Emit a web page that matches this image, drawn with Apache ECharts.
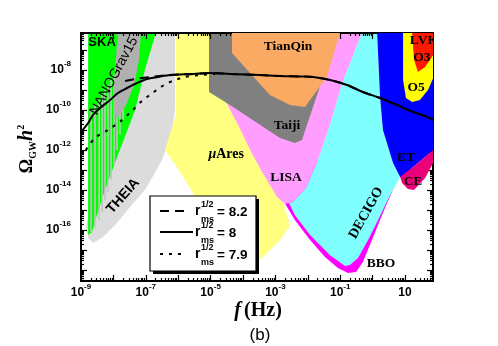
<!DOCTYPE html>
<html><head><meta charset="utf-8">
<script src="https://cdn.jsdelivr.net/npm/echarts@6/dist/echarts.min.js"></script>
<style>html,body{margin:0;padding:0;background:#fff}#c{width:498px;height:346px}</style>
</head><body><div id="c"></div>
<script>
// ---- axis ranges: log10(f / Hz), log10(Omega_GW h^2)
const X_MIN = -9, X_MAX = 1.864, Y_MIN = -18.55, Y_MAX = -6.15;
const xTickLabels = [-9, -7, -5, -3, -1, 1];
const yTickLabels = [-16, -14, -12, -10, -8];

// ---- sensitivity regions (log10 f, log10 Omega h^2)
const theiaF = [-6.87,-6.10,-6.10,-6.19,-6.35,-6.50,-6.72,-7.03,-7.49,-7.89,-8.32,-8.63,-8.78,-8.85,-8.41,-7.64];
const theiaO = [-6.15,-6.15,-10.0,-11.0,-11.85,-12.5,-13.15,-14.0,-14.85,-15.65,-16.35,-16.65,-16.4,-15.75,-13.5,-10.0];
const aresF = [-6.07,-4.34,-4.34,-3.48,-2.80,-2.55,-2.86,-3.26,-3.57,-4.09,-4.56,-5.17,-5.48,-5.73,-6.04,-6.41,-6.07];
const aresO = [-6.15,-6.15,-9.5,-12.5,-14.35,-15.8,-16.5,-17.15,-17.6,-17.9,-17.25,-15.25,-14.35,-13.65,-12.85,-12.0,-10.25];
const lisaF = [-4.86,-3.48,-0.33,-0.94,-1.32,-1.69,-2.06,-2.46,-2.70,-2.95,-3.41,-3.78,-4.15,-4.56];
const lisaO = [-8.5,-6.15,-6.15,-8.65,-10.75,-12.5,-13.9,-14.6,-14.7,-14.35,-13.1,-12.0,-10.75,-9.5];
const taijiF = [-5.05,-1.13,-1.56,-1.87,-2.18,-2.40,-2.86,-4.40,-5.05];
const taijiO = [-6.15,-6.15,-8.5,-10.0,-11.5,-11.65,-11.4,-9.75,-9.1];
const tianqinF = [-4.34,-1.01,-1.41,-2.09,-2.55,-3.17,-4.34];
const tianqinO = [-6.15,-6.15,-8.35,-9.85,-9.75,-9.25,-7.15];
const bboF = [-2.95,-2.77,-2.40,-1.93,-1.47,-1.07,-0.76,-0.51,-0.30,-0.02,0.29,0.69,-1.32];
const bboO = [-14.25,-14.5,-15.5,-16.5,-17.35,-17.9,-18.15,-18.1,-17.6,-16.5,-15.25,-13.75,-12.0];
const decigoF = [-0.33,0.14,0.23,0.32,0.63,0.85,0.54,0.17,-0.14,-0.45,-0.70,-0.85,-1.32,-1.93,-2.40,-2.58,-2.46,-2.06,-1.69,-1.32,-0.94];
const decigoO = [-6.15,-6.15,-9.35,-11.0,-12.65,-13.35,-14.25,-15.5,-16.5,-17.4,-17.75,-17.8,-17.25,-16.25,-15.25,-14.65,-14.6,-13.9,-12.5,-10.75,-8.65];
const etF = [0.14,1.87,1.87,1.62,1.25,0.91,0.85,0.63,0.32,0.23];
const etO = [-6.15,-6.15,-12.0,-12.35,-12.85,-13.35,-13.35,-12.65,-11.0,-9.35];
const ceF = [0.85,1.25,1.87,1.87,1.62,1.28,1.09,0.91];
const ceO = [-13.35,-12.85,-12.0,-12.65,-13.4,-14.0,-13.95,-13.65];
const o5F = [0.94,1.87,1.87,1.71,1.46,1.22,1.03,0.94];
const o5O = [-6.15,-6.15,-8.4,-9.0,-9.5,-9.6,-9.4,-8.5];
const o3F = [1.22,1.87,1.87,1.62,1.40,1.28];
const o3O = [-6.15,-6.15,-7.25,-7.85,-8.1,-7.5];
const skaF = [-8.78,-6.69,-7.03,-7.33,-7.86,-8.26,-8.51,-8.66,-8.78];
const skaO = [-6.15,-6.15,-8.0,-10.0,-12.25,-14.0,-15.25,-16.1,-16.25];
const nanoF = [-7.86,-7.15,-7.21,-7.36,-7.61,-7.86,-8.01,-7.95];
const nanoO = [-6.15,-6.15,-7.5,-8.75,-9.75,-10.4,-10.0,-8.0];
// NANOGrav15 violin stripes: frequency, lower and upper log10 Omega h^2
const stripeF  = [-8.69,-8.57,-8.44,-8.35,-8.26,-8.17,-8.07,-7.98,-7.89,-7.80,-7.70];
const stripeLo = [-16.1,-15.9,-15.5,-15.1,-14.5,-14.1,-13.5,-12.75,-12.0,-11.25,-10.5];
const stripeHi = [-10.0,-9.75,-9.5,-9.25,-9.0,-8.75,-8.5,-8.25,-8.0,-7.5,-7.0];

// ---- model curves
const solidF = [-9.0,-8.78,-8.63,-8.41,-8.10,-7.86,-7.58,-7.27,-6.96,-6.62,-6.25,-5.54,-5.02,-4.40,-3.48,-2.86,-2.24,-1.84,-1.31,-0.79,-0.30,0.23,0.75,1.25,1.62,1.86];
const solidO = [-11.1,-10.65,-10.25,-9.9,-9.5,-9.15,-8.9,-8.65,-8.45,-8.35,-8.25,-8.2,-8.15,-8.2,-8.25,-8.3,-8.325,-8.35,-8.5,-8.75,-9.1,-9.4,-9.75,-10.1,-10.3,-10.5];
const dashF = [-7.64,-7.33,-6.87,-6.41,-5.94,-5.48,-5.02,-4.40,-3.48,-2.86,-2.24,-1.84,-1.31,-0.79,-0.30,0.23,0.75,1.25,1.62,1.86];
const dashO = [-8.55,-8.45,-8.35,-8.275,-8.225,-8.2,-8.15,-8.2,-8.25,-8.3,-8.325,-8.35,-8.5,-8.75,-9.1,-9.4,-9.75,-10.1,-10.3,-10.5];
const dotF = [-8.85,-8.57,-8.17,-7.77,-7.40,-7.09,-6.87,-6.62,-6.38,-6.10,-5.79,-5.33,-4.86];
const dotO = [-12.0,-11.4,-11.0,-10.55,-10.0,-9.5,-9.25,-8.95,-8.7,-8.5,-8.35,-8.25,-8.2];

const legendNames = ['8.2', '8', '7.9'];

// ---- helpers
const zip = (a, b) => a.map((v, i) => [v, b[i]]);
function region(name, fs, os, color, z) {
  const data = zip(fs, os);
  return {
    type: 'custom', name, data, clip: true, z, silent: true,
    renderItem: (params, api) => {
      if (params.dataIndex !== 0) return null;
      return { type: 'polygon', shape: { points: data.map(d => api.coord(d)) },
               style: { fill: color } };
    }
  };
}
function minorVals(lo, hi) {
  const out = [];
  for (let d = Math.floor(lo); d <= Math.ceil(hi); d++)
    for (let k = 2; k <= 9; k++) { const v = d + Math.log10(k); if (v > lo && v < hi) out.push(v); }
  return out;
}
function majorVals(lo, hi) { const o = []; for (let d = Math.ceil(lo); d <= Math.floor(hi); d++) o.push(d); return o; }

const labRich = {
  b: { fontSize: 12, fontWeight: 'bold', fontFamily: 'Liberation Sans', color: '#000', lineHeight: 20 },
  s: { fontSize: 8, fontWeight: 'bold', fontFamily: 'Liberation Sans', color: '#000', lineHeight: 9, verticalAlign: 'top' }
};
const fmt = v => (Math.abs(v - 1) < 1e-9 ? '{b|10}' : '{b|10}{s|' + v + '}');

function axis(pos, lo, hi, vals, len, labels, labVals, margin) {
  return {
    type: 'value', position: pos, min: lo, max: hi, z: 10,
    axisLine: { show: true, onZero: false, lineStyle: { color: '#000', width: 2 } },
    axisTick: { show: true, inside: true, length: len, customValues: vals, lineStyle: { color: '#000', width: 1.2 } },
    axisLabel: labels ? { show: true, customValues: labVals, formatter: fmt, rich: labRich, margin } : { show: false },
    splitLine: { show: false }
  };
}

const xMaj = majorVals(X_MIN, X_MAX), xMin = minorVals(X_MIN, X_MAX);
const yMaj = majorVals(Y_MIN, Y_MAX), yMin = minorVals(Y_MIN, Y_MAX);

const serif = 'Liberation Serif';
const labelSpecs = [
  { x: -8.35, y: -6.6, text: 'SKA', font: 'bold 13px "Liberation Sans"' },
  { x: -7.98, y: -8.3, text: 'NANOGrav15', font: '14px "Liberation Sans"', rot: 61.7 },
  { x: -7.70, y: -14.3, text: 'THEIA', font: 'bold 14px "Liberation Sans"', rot: 48.5 },
  { x: -4.52, y: -12.2, text: '{i|μ}{n|Ares}' },
  { x: -2.61, y: -6.85, text: 'TianQin', font: 'bold 13.5px "Liberation Serif"' },
  { x: -2.64, y: -10.8, text: 'Taiji', font: 'bold 13.5px "Liberation Serif"' },
  { x: -2.67, y: -13.4, text: 'LISA', font: 'bold 13.5px "Liberation Serif"' },
  { x: -0.20, y: -15.15, text: 'DECIGO', font: 'bold 14px "Liberation Serif"', rot: 60.8 },
  { x: 0.26, y: -17.7, text: 'BBO', font: 'bold 13.5px "Liberation Serif"' },
  { x: 1.03, y: -12.4, text: 'ET', font: 'bold 13.5px "Liberation Serif"' },
  { x: 1.25, y: -13.6, text: 'CE', font: 'bold 13px "Liberation Serif"' },
  { x: 1.34, y: -8.9, text: 'O5', font: 'bold 13.5px "Liberation Serif"' },
  { x: 1.52, y: -7.4, text: 'O3', font: 'bold 13.5px "Liberation Serif"' },
  { x: 1.15, y: -6.55, text: 'LVK', font: 'bold 13.5px "Liberation Serif"', align: 'left' }
];

const series = [
  region('THEIA', theiaF, theiaO, '#dcdcdc', 2),
  region('SKA', skaF, skaO, '#00ff00', 3),
  {
    type: 'custom', name: 'NG stripes', clip: true, z: 4, silent: true,
    data: stripeF.map((f, i) => [f, stripeLo[i], stripeHi[i]]),
    renderItem: (params, api) => {
      const a = api.coord([api.value(0), api.value(1)]);
      const b = api.coord([api.value(0), api.value(2)]);
      return { type: 'line', shape: { x1: a[0], y1: a[1], x2: b[0], y2: b[1] }, style: { stroke: '#c4c4c4', lineWidth: 1.6 } };
    },
    encode: { x: 0, y: [1, 2] }
  },
  region('NANOGrav15', nanoF, nanoO, '#b0b0b0', 5),
  region('muAres', aresF, aresO, '#ffff80', 6),
  region('BBO', bboF, bboO, '#ff00ff', 7),
  region('DECIGO', decigoF, decigoO, '#80ffff', 8),
  region('LISA', lisaF, lisaO, '#ff9eff', 9),
  region('Taiji', taijiF, taijiO, '#808080', 10),
  region('TianQin', tianqinF, tianqinO, '#fbaa64', 11),
  region('ET', etF, etO, '#0000ff', 12),
  region('CE', ceF, ceO, '#ea0078', 13),
  region('O5', o5F, o5O, '#ffff00', 14),
  region('O3', o3F, o3O, '#ff1800', 15),
  { type: 'line', name: legendNames[0], data: zip(dashF, dashO), smooth: 0.3, showSymbol: false, z: 20, silent: true,
    lineStyle: { color: '#000', width: 2, type: [9, 6] } },
  { type: 'line', name: legendNames[2], data: zip(dotF, dotO), smooth: 0.3, showSymbol: false, z: 20, silent: true,
    lineStyle: { color: '#000', width: 2, type: [3, 6] } },
  { type: 'line', name: legendNames[1], data: zip(solidF, solidO), smooth: 0.3, showSymbol: false, z: 21, silent: true,
    lineStyle: { color: '#000', width: 2 } },
  {
    type: 'custom', name: 'labels', clip: true, z: 30, silent: true,
    data: labelSpecs.map(l => [l.x, l.y]),
    renderItem: (params, api) => {
      const L = labelSpecs[params.dataIndex];
      const p = api.coord([L.x, L.y]);
      const style = { text: L.text, fill: '#000', align: L.align || 'center', verticalAlign: 'middle' };
      if (L.font) style.font = L.font;
      else style.rich = {
        i: { fontStyle: 'italic', fontWeight: 'bold', fontSize: 14, fontFamily: serif, fill: '#000' },
        n: { fontWeight: 'bold', fontSize: 14, fontFamily: serif, fill: '#000' }
      };
      return { type: 'text', x: p[0], y: p[1], rotation: (L.rot || 0) * Math.PI / 180, style };
    }
  }
];

// legend (drawn as graphic)
const lg = [];
lg.push({ type: 'rect', shape: { x: 153, y: 199, width: 106, height: 75 }, style: { fill: '#000' } });
lg.push({ type: 'rect', shape: { x: 150, y: 196, width: 106, height: 75 }, style: { fill: '#fff', stroke: '#000', lineWidth: 1.2 } });
const rowsY = [211, 232, 254];
const dashes = [[9, 6], null, [3, 6]];
const lineEnds = [186, 193, 186];
rowsY.forEach((y, i) => {
  lg.push({ type: 'line', shape: { x1: 160, y1: y, x2: lineEnds[i], y2: y }, style: { stroke: '#000', lineWidth: 2, lineDash: dashes[i] } });
  lg.push({ type: 'text', x: 195, y: y, style: { text: 'r', font: 'bold 14px "Liberation Sans"', fill: '#000', verticalAlign: 'middle' } });
  lg.push({ type: 'text', x: 201, y: y - 6, style: { text: '1/2', font: 'bold 9px "Liberation Sans"', fill: '#000', verticalAlign: 'middle' } });
  lg.push({ type: 'text', x: 201, y: y + 9, style: { text: 'ms', font: 'bold 9px "Liberation Sans"', fill: '#000', verticalAlign: 'middle' } });
  lg.push({ type: 'text', x: 217, y: y + 1, style: { text: '= ' + legendNames[i], font: 'bold 13.5px "Liberation Sans"', fill: '#000', verticalAlign: 'middle' } });
});
// axis titles
lg.push({ type: 'text', x: 27, y: 149, rotation: Math.PI / 2,
  style: { text: '{o|Ω}{g|GW}{h|h}{t|2}', align: 'center', verticalAlign: 'middle',
    rich: {
      o: { fontFamily: serif, fontSize: 18, fontWeight: 'bold', lineHeight: 22, fill: '#000' },
      g: { fontFamily: serif, fontSize: 10, fontWeight: 'bold', lineHeight: 10, verticalAlign: 'bottom', fill: '#000' },
      h: { fontFamily: serif, fontSize: 20, fontWeight: 'bold', fontStyle: 'italic', lineHeight: 22, fill: '#000' },
      t: { fontFamily: serif, fontSize: 10, fontWeight: 'bold', lineHeight: 10, verticalAlign: 'top', fill: '#000' }
    } } });
lg.push({ type: 'text', x: 258, y: 311,
  style: { text: '{f|f} {h|(Hz)}', align: 'center', verticalAlign: 'middle',
    rich: {
      f: { fontFamily: serif, fontSize: 20, fontWeight: 'bold', fontStyle: 'italic', fill: '#000' },
      h: { fontFamily: serif, fontSize: 20, fontWeight: 'bold', fill: '#000' }
    } } });
lg.push({ type: 'text', x: 260, y: 335, style: { text: '(b)', font: '17px "Liberation Sans"', fill: '#000', align: 'center', verticalAlign: 'middle' } });

const option = {
  animation: false,
  backgroundColor: '#fff',
  grid: { left: 81, top: 33, right: 65, bottom: 65, outerBoundsMode: 'none' },
  xAxis: [
    axis('bottom', X_MIN, X_MAX, xMaj, 6, true, xTickLabels, 2),
    axis('bottom', X_MIN, X_MAX, xMin, 3, false),
    axis('top', X_MIN, X_MAX, xMaj, 6, false),
    axis('top', X_MIN, X_MAX, xMin, 3, false)
  ],
  yAxis: [
    axis('left', Y_MIN, Y_MAX, yMaj, 6, true, yTickLabels, 10),
    axis('left', Y_MIN, Y_MAX, yMin, 3, false),
    axis('right', Y_MIN, Y_MAX, yMaj, 6, false),
    axis('right', Y_MIN, Y_MAX, yMin, 3, false)
  ],
  series,
  graphic: { elements: lg.map(e => Object.assign({ z: 100, silent: true }, e)) }
};
const chart = echarts.init(document.getElementById('c'), null, { renderer: 'canvas' });
chart.setOption(option);
</script></body></html>
